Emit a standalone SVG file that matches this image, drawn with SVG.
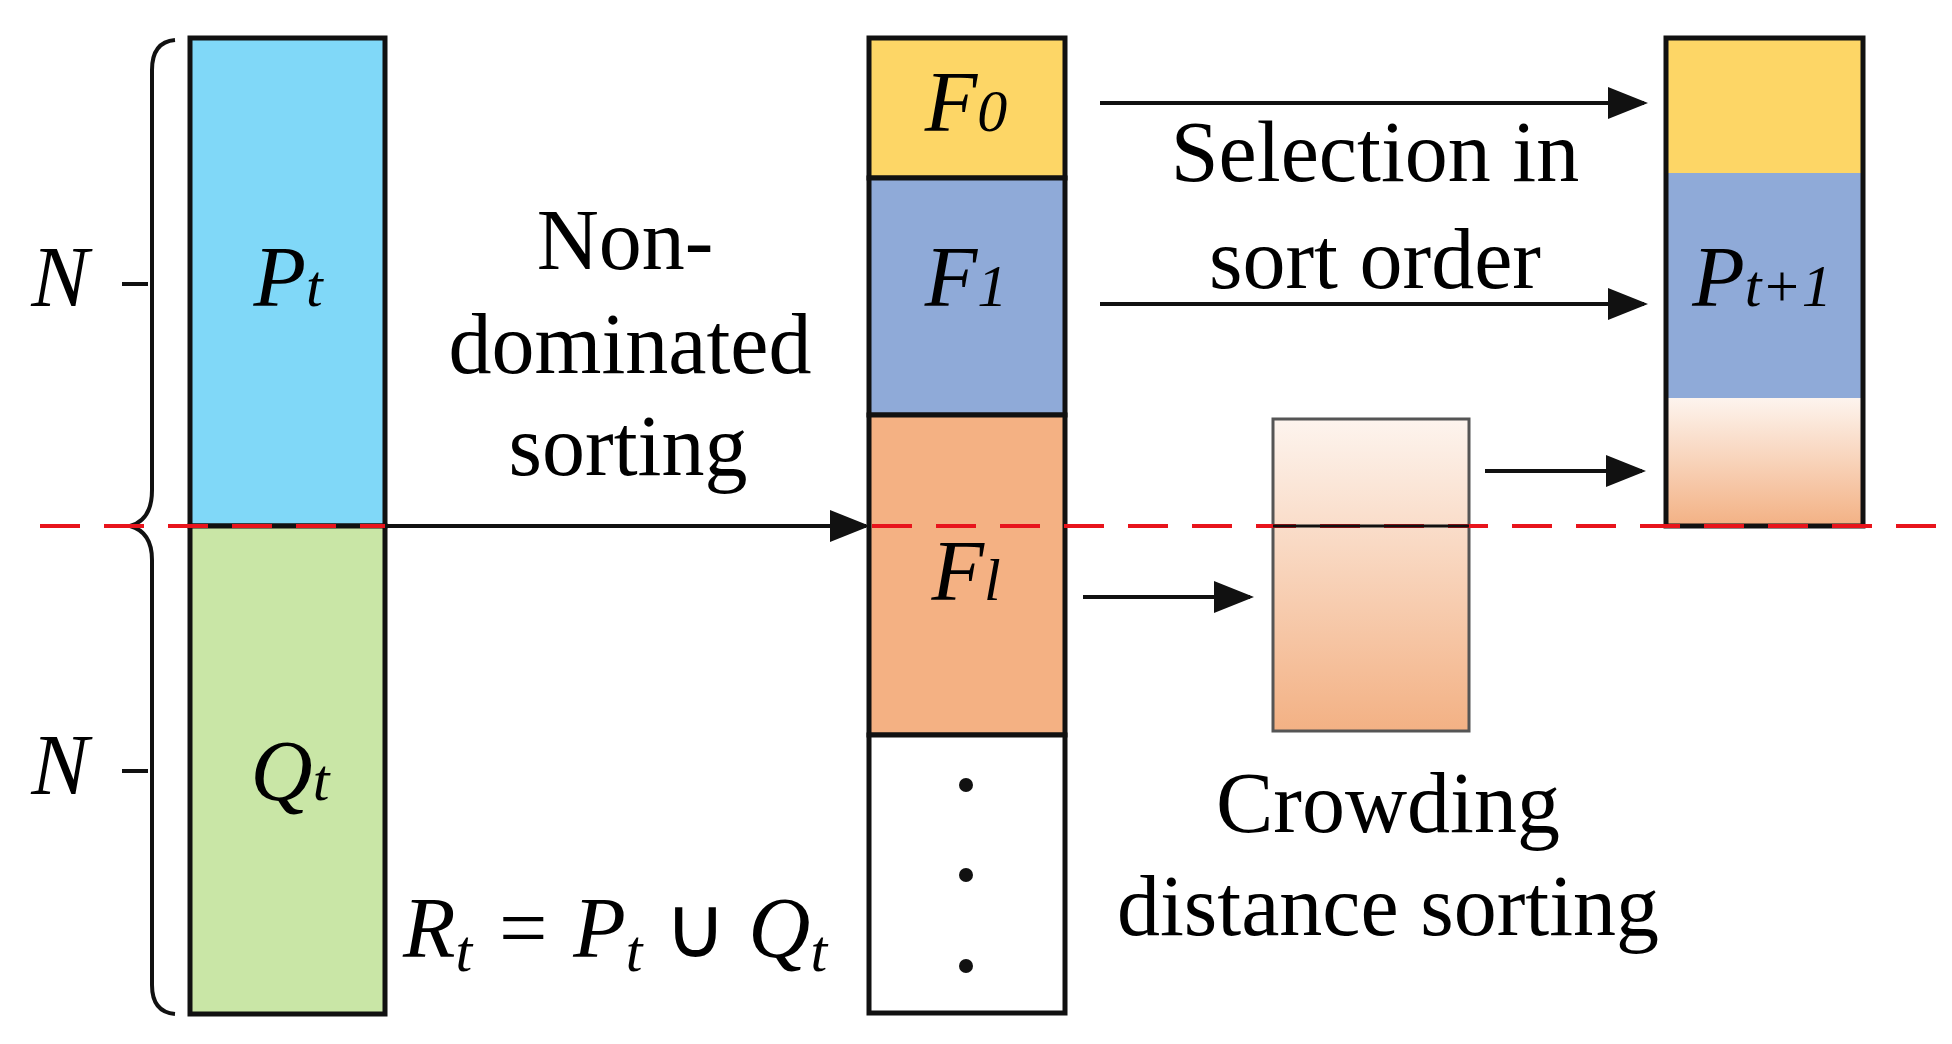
<svg xmlns="http://www.w3.org/2000/svg" width="1952" height="1044" viewBox="0 0 1952 1044">
<style>
.b{stroke:#111;stroke-width:5}
.t{font-family:"Liberation Serif",serif;font-size:86px;fill:#000;text-anchor:middle}
.i{font-style:italic}
.a{stroke:#111;stroke-width:4;fill:none;marker-end:url(#ar)}
</style>
<defs>
<marker id="ar" markerWidth="10" markerHeight="8" refX="9" refY="4" orient="auto" markerUnits="strokeWidth"><path d="M0,0L10,4L0,8z" fill="#111"/></marker>
<linearGradient id="g" x1="0" y1="0" x2="0" y2="1"><stop offset="0" stop-color="#fdf4ee"/><stop offset="1" stop-color="#f3b184"/></linearGradient>
</defs>
<rect width="1952" height="1044" fill="#fff"/>
<g id="Pt"><rect class="b" x="190" y="38" width="195" height="488" fill="#80d8f8"/><text class="t i" x="288" y="306">P<tspan font-size="60">t</tspan></text></g>
<g id="Qt"><rect class="b" x="190" y="526" width="195" height="488" fill="#c9e6a6"/><text class="t i" x="290" y="800">Q<tspan font-size="60">t</tspan></text></g>
<g id="braces" fill="none" stroke="#111" stroke-width="4">
<path d="M175,40 Q152,42 152,70 L152,490 Q152,520 130,526 Q152,532 152,560 L152,985 Q152,1012 175,1014"/>
<path d="M122,284 H148 M122,771 H148"/>
</g>
<text class="t i" x="60" y="306">N</text>
<text class="t i" x="60" y="794">N</text>
<g id="F"><rect class="b" x="869" y="38" width="196" height="140" fill="#fdd666"/><text class="t i" x="966" y="131">F<tspan font-size="60">0</tspan></text>
<rect class="b" x="869" y="178" width="196" height="237" fill="#8faad8"/><text class="t i" x="966" y="306">F<tspan font-size="60">1</tspan></text>
<rect class="b" x="869" y="415" width="196" height="320" fill="#f4b183"/><text class="t i" x="966" y="600">F<tspan font-size="60">l</tspan></text>
<rect class="b" x="869" y="735" width="196" height="278" fill="#fff"/>
<circle cx="966" cy="785" r="7" fill="#111"/><circle cx="966" cy="875" r="7" fill="#111"/><circle cx="966" cy="966" r="7" fill="#111"/></g>
<g id="crowd"><rect x="1273" y="419" width="196" height="312" fill="url(#g)" stroke="#555" stroke-width="3"/></g>
<g id="Pt1"><rect x="1666" y="38" width="197" height="135" fill="#fdd666"/><rect x="1666" y="173" width="197" height="225" fill="#8faad8"/><rect x="1666" y="398" width="197" height="128" fill="url(#g)"/><rect class="b" x="1666" y="38" width="197" height="488" fill="none"/><text class="t i" x="1762" y="306">P<tspan font-size="60">t+1</tspan></text></g>
<g id="connectors">
<line x1="40" y1="526" x2="1940" y2="526" stroke="#e8141c" stroke-width="4" stroke-dasharray="40,24"/>
<line class="a" x1="385" y1="526" x2="866" y2="526"/>
<line x1="1273" y1="526" x2="1469" y2="526" stroke="#111" stroke-width="3"/>
<line class="a" x1="1100" y1="103" x2="1644" y2="103"/>
<line class="a" x1="1100" y1="304" x2="1644" y2="304"/>
<line class="a" x1="1485" y1="471" x2="1642" y2="471"/>
<line class="a" x1="1083" y1="597" x2="1250" y2="597"/>
</g>
<text class="t" x="625" y="269">Non-</text>
<text class="t" x="630" y="373">dominated</text>
<text class="t" x="628" y="475">sorting</text>
<text class="t" x="1375" y="181">Selection in</text>
<text class="t" x="1375" y="288">sort order</text>
<text class="t" x="1388" y="832">Crowding</text>
<text class="t" x="1388" y="935">distance sorting</text>
<text class="t i" x="615" y="957">R<tspan font-size="60" dy="14">t</tspan><tspan dy="-14"> = P</tspan><tspan font-size="60" dy="14">t</tspan><tspan dy="-14" font-style="normal"> ∪ </tspan><tspan>Q</tspan><tspan font-size="60" dy="14">t</tspan></text>
</svg>
